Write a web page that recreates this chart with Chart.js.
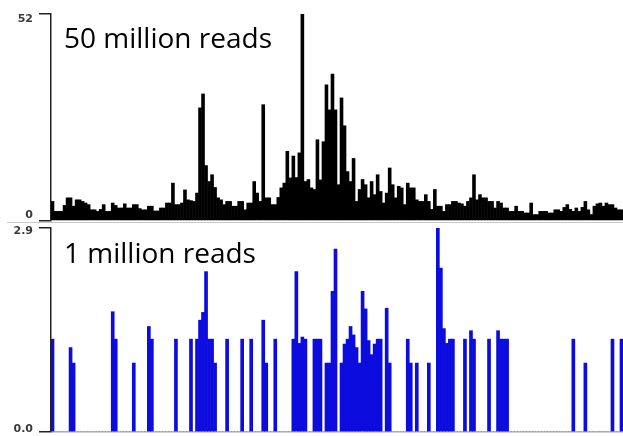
<!DOCTYPE html>
<html>
<head>
<meta charset="utf-8">
<script src="https://cdn.jsdelivr.net/npm/chart.js@4/dist/chart.umd.min.js"></script>
<style>
  html, body { margin: 0; padding: 0; background: #fff; }
  #wrap { position: relative; width: 623px; height: 436px; overflow: hidden; }
  canvas { position: absolute; left: 0; }
  #topChart { top: 0; }
  #bottomChart { top: 222px; }
  .panel-label {
    position: absolute; left: 64px;
    font-family: 'Open Sans', sans-serif; font-size: 28px; line-height: 28px;
    color: #000; white-space: nowrap; z-index: 2;
  }
  #sep { position: absolute; left: 7px; top: 222px; width: 616px; height: 1px; background: #c8c8c8; z-index: 1; }
</style>
</head>
<body>
<div id="wrap">
  <canvas id="topChart" width="623" height="222"></canvas>
  <canvas id="bottomChart" width="623" height="214"></canvas>
  <div id="sep"></div>
  <div class="panel-label" id="topLabel" style="top:23px"></div>
  <div class="panel-label" id="bottomLabel" style="top:238px"></div>
</div>
<script>
// Panel captions (sequencing depth)
const depthLabels = ['50 million reads', '1 million reads'];

// Y-axis tick values for each panel
const topTicks = [0, 52];
const bottomTicks = [0, 2.9];

// Coverage per bin, 50 million reads
const reads50M = [
  5, 2.5, 2.5, 2.5, 4, 5.9, 5.9, 3.8, 5.4, 5.4,
  5.0, 4.6, 4.2, 2.9, 2.9, 2.5, 3, 4.2, 2.5, 2.5,
  4.6, 4, 3.35, 3.35, 4.4, 3.35, 3.35, 4.2, 4.2, 3.2,
  2.9, 2.9, 3.8, 3.8, 2.6, 2.6, 3.35, 3.35, 4.6, 4.6,
  9.6, 4.2, 4.2, 4.6, 7.9, 5.4, 5.2, 5.0, 7.1, 28.5,
  32, 14, 10, 11.7, 8.5, 5.9, 5.4, 4.2, 5.0, 5.0,
  3.8, 3.8, 5.0, 5.0, 2.9, 4.6, 4.6, 10, 7.1, 5.0,
  29.3, 5.9, 5.9, 4.2, 4.2, 6, 8.4, 9.6, 17.6, 10.9,
  16.4, 11, 17.2, 52, 10, 10.5, 8.4, 8.0, 20.5, 10.4,
  20, 34.3, 28, 37, 28, 9.2, 31, 24, 12.5, 10,
  15.8, 5.0, 8.0, 10.5, 9.2, 5.9, 10, 6.7, 11.7, 7.5,
  4.6, 7.1, 13.4, 9.2, 5.9, 8.8, 8.4, 4.2, 9.6, 8.4,
  8.4, 5.4, 5.0, 5.0, 6.7, 5.0, 3.0, 8.0, 3.8, 3.8,
  2.5, 4.2, 4.2, 5.0, 5.0, 4.6, 4.4, 3.8, 5.0, 5.9,
  11.7, 5.4, 6.7, 5.9, 5.9, 5.0, 5.0, 3.35, 5.0, 4.6,
  3.35, 3.35, 2.5, 2.5, 3.8, 2.5, 2.5, 2.1, 2.1, 4.6,
  1.7, 1.7, 2.5, 2.5, 2.5, 2.1, 2.1, 2.9, 2.9, 2.5,
  3.5, 4.2, 3.0, 2.5, 3.35, 2.5, 3.5, 5.0, 2.9, 1.7,
  3.8, 4.4, 4.6, 3.8, 4.6, 4.2, 4.2, 3.35, 2.9, 2.9
];

// Coverage per bin, 1 million reads
const reads1M = [
  1.32, 0, 0, 0, 0, 0, 1.2, 0.98, 0, 0,
  0, 0, 0, 0, 0, 0, 0, 0, 0, 0,
  1.71, 1.32, 0, 0, 0, 0, 0, 0.98, 0, 0,
  0, 0, 1.5, 1.32, 0, 0, 0, 0, 0, 0,
  0, 1.32, 0, 0, 0, 0, 1.32, 0, 1.32, 1.59,
  1.7, 2.28, 1.32, 1.32, 0.98, 0, 0, 0, 1.32, 0,
  0, 0, 0, 1.32, 0, 0, 1.32, 0, 0, 0,
  1.59, 0.98, 0, 0, 1.32, 0, 0, 0, 0, 0,
  1.32, 2.28, 1.26, 1.35, 1.32, 0, 0, 1.32, 1.32, 1.32,
  0, 0.98, 0.98, 2.0, 2.6, 0, 0.98, 1.25, 1.32, 1.5,
  1.38, 1.2, 0.98, 2.0, 1.75, 1.3, 1.1, 1.25, 1.32, 1.32,
  0, 1.76, 0.98, 0, 0, 0, 0, 0, 1.32, 0.98,
  0, 0.98, 0, 0, 0, 0.98, 0, 0, 2.9, 2.33,
  1.47, 1.26, 1.32, 1.32, 0, 0, 0, 1.32, 0, 1.44,
  1.32, 0, 0, 0, 0, 1.32, 0, 0, 1.44, 1.32,
  1.32, 1.32, 0, 0, 0, 0, 0, 0, 0, 0,
  0, 0, 0, 0, 0, 0, 0, 0, 0, 0,
  0, 0, 0, 1.32, 0, 0, 0, 0.98, 0, 0,
  0, 0, 0, 0, 0, 0, 1.32, 0, 0, 1.32
];

// Genomic bins along the x axis
const bins = reads50M.map((_, i) => i + 1);

document.getElementById('topLabel').textContent = depthLabels[0];
document.getElementById('bottomLabel').textContent = depthLabels[1];

function coveragePanel(canvasId, values, color, barPct, tickValues, decimals, labelLineHeight, padding, showBaseline) {
  return new Chart(document.getElementById(canvasId), {
    type: 'bar',
    data: {
      labels: bins,
      datasets: [{
        data: values,
        backgroundColor: color,
        borderWidth: 0,
        barPercentage: barPct,
        categoryPercentage: 1
      }]
    },
    options: {
      responsive: false,
      animation: false,
      devicePixelRatio: 1,
      layout: { padding: padding },
      plugins: { legend: { display: false }, tooltip: { enabled: false } },
      scales: {
        x: {
          display: showBaseline,
          grid: { display: false, drawTicks: false },
          ticks: { display: false },
          border: { display: true, color: '#cfcfcf', width: 1 },
          afterFit: s => { s.height = 0; }
        },
        y: {
          min: tickValues[0],
          max: tickValues[1],
          afterBuildTicks: s => { s.ticks = tickValues.map(v => ({ value: v })); },
          afterFit: s => { s.width = 51; s.paddingTop = 0; s.paddingBottom = 0; },
          grid: {
            display: true,
            drawOnChartArea: false,
            drawTicks: true,
            tickLength: 12,
            color: '#333',
            lineWidth: 1.5,
            tickColor: '#222',
            tickWidth: 1.5
          },
          border: { display: true, color: '#222', width: 1.5 },
          ticks: {
            padding: 6,
            color: '#3a3a3a',
            font: { family: 'DejaVu Sans', size: 11, weight: 'bold', lineHeight: labelLineHeight },
            callback: (v, i) => {
              const t = Number(v).toFixed(decimals);
              return i === 0 ? [t, ''] : ['', t];
            }
          }
        }
      }
    }
  });
}

coveragePanel('topChart', reads50M, '#000000', 1.2, topTicks, 0, 1.0,
  { top: 14, bottom: 1, left: 0, right: 0 }, false);
coveragePanel('bottomChart', reads1M, '#0c0cde', 1.0, bottomTicks, 1, 0.6,
  { top: 6, bottom: 4, left: 0, right: 0 }, true);
</script>
</body>
</html>
